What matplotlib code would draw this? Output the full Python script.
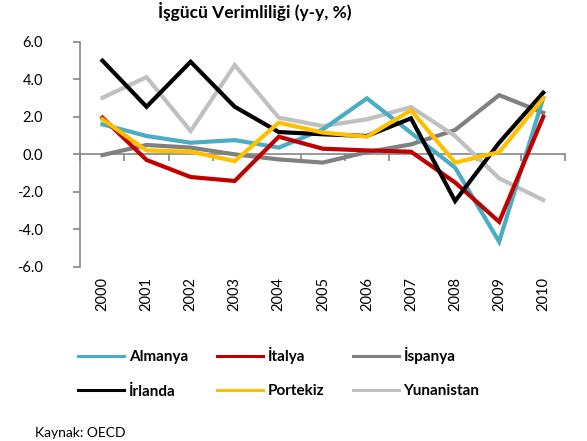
import numpy as np
import matplotlib.pyplot as plt
from matplotlib.lines import Line2D
from matplotlib.transforms import blended_transform_factory

plt.rcParams['font.family'] = ['Lato', 'DejaVu Sans']

years = ['2000', '2001', '2002', '2003', '2004', '2005', '2006', '2007', '2008', '2009', '2010']
almanya = [1.6, 0.98, 0.62, 0.76, 0.36, 1.33, 2.99, 1.15, -0.71, -4.66, 3.0]
italya = [1.96, -0.3, -1.21, -1.42, 0.94, 0.3, 0.21, 0.14, -1.5, -3.6, 2.0]
ispanya = [-0.04, 0.5, 0.36, 0.0, -0.27, -0.44, 0.12, 0.53, 1.3, 3.16, 2.22]
irlanda = [5.0, 2.54, 4.94, 2.54, 1.19, 1.07, 0.98, 1.92, -2.49, 0.62, 3.29]
portekiz = [1.87, 0.21, 0.14, -0.36, 1.69, 1.16, 0.94, 2.35, -0.44, 0.12, 2.99]
yunanistan = [3.02, 4.12, 1.24, 4.76, 1.96, 1.51, 1.87, 2.52, 0.98, -1.28, -2.44]

series = {
    'Almanya': (almanya, '#4BACC6'),
    'İtalya': (italya, '#C00000'),
    'İspanya': (ispanya, '#808080'),
    'İrlanda': (irlanda, '#000000'),
    'Portekiz': (portekiz, '#FFC000'),
    'Yunanistan': (yunanistan, '#C0C0C0'),
}

fig = plt.figure(figsize=(5.87, 4.41), dpi=100)
ax = fig.add_axes([0.137, 0.395, 0.826, 0.51])

x = np.arange(len(years))
# draw order: back to front roughly like the original
for name in ['İspanya', 'Yunanistan', 'Almanya', 'İtalya', 'İrlanda', 'Portekiz']:
    vals, col = series[name]
    ax.plot(x, vals, color=col, lw=3, solid_joinstyle='miter', zorder=3)

ax.set_xlim(-0.5, len(years) - 0.5)
ax.set_ylim(-6, 6)
ax.set_yticks(np.arange(-6, 7, 2))
ax.set_yticklabels([f'{v:.1f}' for v in np.arange(-6, 7, 2)], fontsize=10.5)

for s in ['top', 'right']:
    ax.spines[s].set_visible(False)
ax.spines['left'].set_color('#868686')
ax.spines['bottom'].set_color('#868686')
ax.spines['bottom'].set_position(('data', 0))
ax.spines['left'].set_linewidth(1.2)
ax.spines['bottom'].set_linewidth(1.2)
ax.tick_params(axis='y', length=5, color='#868686', width=1.2, pad=22)

# ticks at category boundaries on the zero line
ax.set_xticks(np.arange(-0.5, len(years), 1))
ax.set_xticklabels([])
ax.tick_params(axis='x', length=5, color='#868686', width=1.2)

# category labels below the plot area
trans = blended_transform_factory(ax.transData, ax.transAxes)
for i, yr in enumerate(years):
    ax.text(i, -0.045, yr, transform=trans, rotation=90, ha='center', va='top', fontsize=10.5)

fig.text(0.434, 0.975, 'İşgücü Verimliliği (y-y, %)', ha='center', va='center',
         fontsize=12.5, fontweight='bold')

# legend filled row by row (matplotlib fills by column)
order = ['Almanya', 'İrlanda', 'İtalya', 'Portekiz', 'İspanya', 'Yunanistan']
handles = [Line2D([0], [0], color=series[n][1], lw=2.2) for n in order]
fig.legend(handles, order, ncol=3, loc='upper left', bbox_to_anchor=(0.11, 0.245),
           frameon=False, handlelength=3.0, handletextpad=0.3, columnspacing=1.9,
           labelspacing=1.35, prop={'weight': 'bold', 'size': 11})

fig.text(0.06, 0.018, 'Kaynak: OECD', fontsize=10, va='center', ha='left')

fig.savefig('out.png', dpi=100)
